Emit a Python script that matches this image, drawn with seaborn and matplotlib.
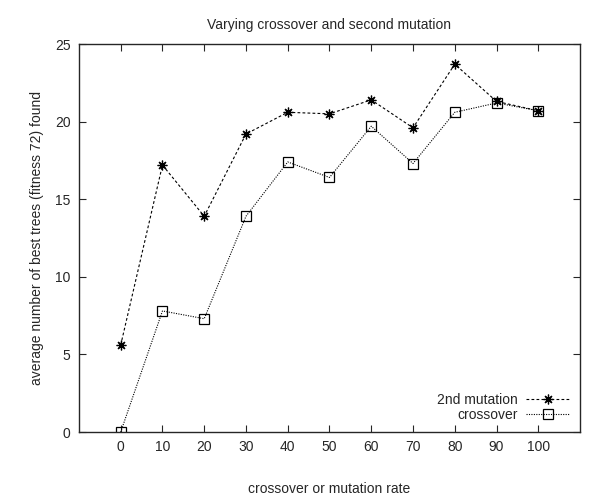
import matplotlib
matplotlib.use('Agg')
import matplotlib.pyplot as plt
import seaborn as sns
import pandas as pd

rates = [0, 10, 20, 30, 40, 50, 60, 70, 80, 90, 100]
mutation = [5.6, 17.2, 13.9, 19.2, 20.6, 20.5, 21.4, 19.6, 23.7, 21.3, 20.7]
crossover = [0.0, 7.8, 7.3, 13.9, 17.4, 16.4, 19.7, 17.3, 20.6, 21.2, 20.7]
yticks = [0, 5, 10, 15, 20, 25]

sns.set_style('ticks')
plt.rcParams['font.family'] = ['Liberation Sans', 'DejaVu Sans']

df = pd.DataFrame({'rate': rates, '2nd mutation': mutation, 'crossover': crossover})

fig, ax = plt.subplots(figsize=(5.98, 5.0), dpi=100)
fig.subplots_adjust(left=0.132, right=0.97, top=0.912, bottom=0.136)

# seaborn defaults marker edges to white, so force black edges
sns.lineplot(data=df, x='rate', y='2nd mutation', ax=ax, color='black', lw=0.8,
             linestyle=(0, (2.5, 2)), marker=(8, 2, 0), markersize=7,
             markeredgecolor='black', markeredgewidth=0.9, label='2nd mutation')
sns.lineplot(data=df, x='rate', y='crossover', ax=ax, color='black', lw=0.8,
             linestyle=(0, (1, 1.2)), marker='s', markersize=6.5,
             markerfacecolor='none', markeredgecolor='black', markeredgewidth=0.9,
             label='crossover')

ax.set_xlim(-10, 110)
ax.set_ylim(0, 25)
ax.set_xticks(rates)
ax.set_yticks(yticks)
ax.tick_params(direction='in', top=True, right=True, length=5, width=0.8, labelsize=10, pad=6)
for s in ax.spines.values():
    s.set_linewidth(1.0)
    s.set_visible(True)

ax.set_title('Varying crossover and second mutation', fontsize=10, pad=11)
ax.set_xlabel('crossover or mutation rate', fontsize=10, labelpad=20)
ax.set_ylabel('average number of best trees (fitness 72) found', fontsize=10, labelpad=8)

ax.legend(loc='lower right', markerfirst=False, frameon=False,
          fontsize=10, handlelength=3.2, borderaxespad=0.3, labelspacing=0.1,
          handletextpad=0.6)

plt.savefig('out.png', dpi=100)
plt.close()
